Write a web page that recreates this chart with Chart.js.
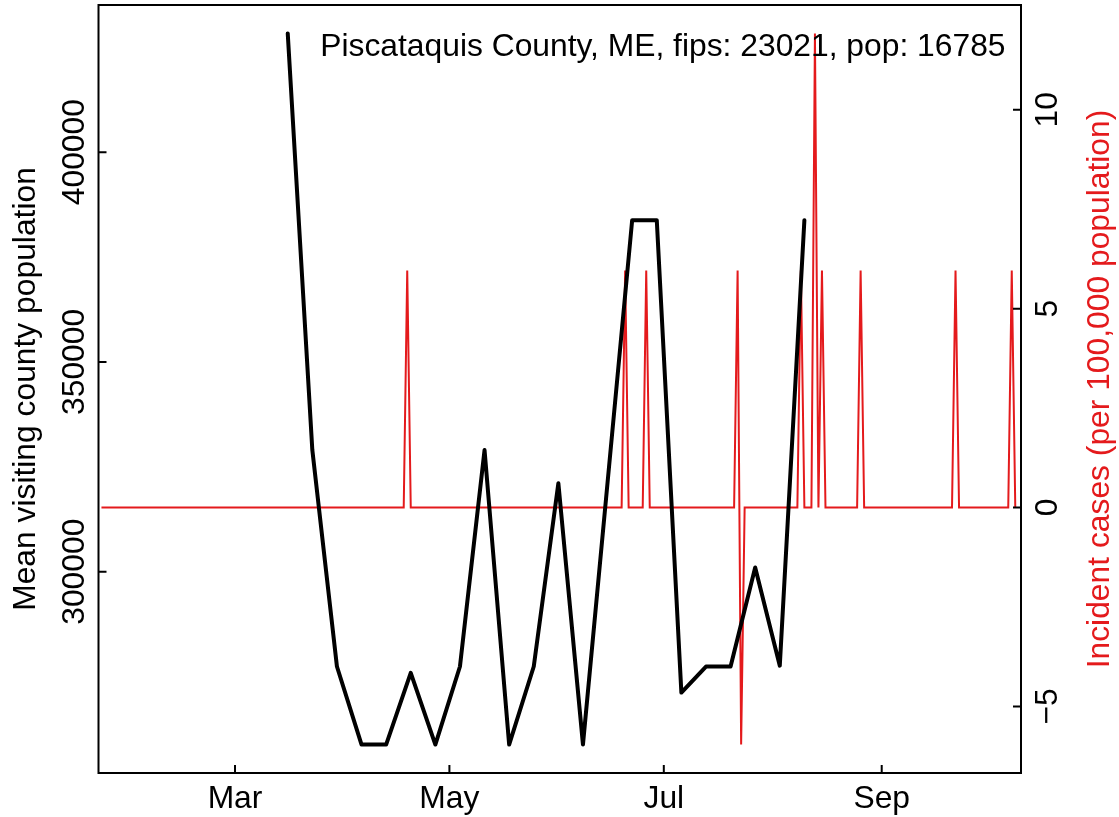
<!DOCTYPE html>
<html>
<head>
<meta charset="utf-8">
<script src="https://cdn.jsdelivr.net/npm/chart.js@4.4.0/dist/chart.umd.min.js"></script>
<style>
html,body{margin:0;padding:0;background:#fff;}
#wrap{width:1119px;height:817px;}
</style>
</head>
<body>
<div id="wrap"><canvas id="c" width="1119" height="817"></canvas></div>
<script>
// ---- data ----
const visitDates = ['2020-03-16','2020-03-23','2020-03-30','2020-04-06','2020-04-13','2020-04-20',
  '2020-04-27','2020-05-04','2020-05-11','2020-05-18','2020-05-25','2020-06-01','2020-06-08',
  '2020-06-15','2020-06-22','2020-06-29','2020-07-06','2020-07-13','2020-07-20','2020-07-27',
  '2020-08-03','2020-08-10'];
const visitValues = [428300, 329000, 277400, 258800, 258800, 275900, 258800, 277400, 329000,
  258800, 277400, 321100, 258800, 321300, 383800, 383800, 271200, 277400, 277400, 301000,
  277600, 383800];

const caseDates = ['2020-01-23',
  '2020-04-18','2020-04-19','2020-04-20',
  '2020-06-19','2020-06-20','2020-06-21',
  '2020-06-25','2020-06-26','2020-06-27',
  '2020-07-21','2020-07-22','2020-07-23','2020-07-24',
  '2020-08-08','2020-08-09','2020-08-10',
  '2020-08-12','2020-08-13','2020-08-14','2020-08-15','2020-08-16',
  '2020-08-25','2020-08-26','2020-08-27',
  '2020-09-21','2020-09-22','2020-09-23',
  '2020-10-07','2020-10-08','2020-10-09'];
const caseValues = [0,
  0, 5.96, 0,
  0, 5.96, 0,
  0, 5.96, 0,
  0, 5.96, -5.96, 0,
  0, 5.96, 0,
  0, 11.92, 0, 5.96, 0,
  0, 5.96, 0,
  0, 5.96, 0,
  0, 5.96, 0];

const monthTickDates = ['2020-03-01','2020-05-01','2020-07-01','2020-09-01'];
const monthTickLabels = ['Mar','May','Jul','Sep'];
const leftTicks = [300000, 350000, 400000];
const rightTicks = [-5, 0, 5, 10];
const rightTickLabels = ['\u22125','0','5','10'];
const titleText = 'Piscataquis County, ME, fips: 23021, pop: 16785';
const leftTitle = 'Mean visiting county population';
const rightTitle = 'Incident cases (per 100,000 population)';

// ---- helpers ----
function doy(s){
  const p = s.split('-').map(Number);
  return (Date.UTC(p[0],p[1]-1,p[2]) - Date.UTC(p[0],0,1)) / 864e5 + 1;
}
function padRange(arr){
  const mn = Math.min(...arr), mx = Math.max(...arr), p = (mx-mn)*0.04;
  return [mn-p, mx+p];
}
const leftRange = padRange(visitValues);
const rightRange = padRange(caseValues);

const FONT = '31.8px "Liberation Sans", Arial, Helvetica, sans-serif';
const RED = '#E41A1C';

const overlay = {
  id: 'overlay',
  afterDraw(chart){
    const ctx = chart.ctx, a = chart.chartArea;
    const xs = chart.scales.x, yl = chart.scales.yL, yr = chart.scales.yR;
    ctx.save();
    ctx.strokeStyle = '#000';
    ctx.lineWidth = 2;
    ctx.strokeRect(a.left, a.top, a.right - a.left, a.bottom - a.top);
    const TL = 8;
    ctx.beginPath();
    monthTickDates.forEach(d => { const x = xs.getPixelForValue(doy(d)); ctx.moveTo(x, a.bottom); ctx.lineTo(x, a.bottom - TL); });
    leftTicks.forEach(v => { const y = yl.getPixelForValue(v); ctx.moveTo(a.left, y); ctx.lineTo(a.left + TL, y); });
    rightTicks.forEach(v => { const y = yr.getPixelForValue(v); ctx.moveTo(a.right, y); ctx.lineTo(a.right - TL, y); });
    ctx.stroke();

    ctx.font = FONT;
    ctx.fillStyle = '#000';
    ctx.textAlign = 'center';
    ctx.textBaseline = 'alphabetic';
    monthTickDates.forEach((d,i) => ctx.fillText(monthTickLabels[i], xs.getPixelForValue(doy(d)), a.bottom + 35));
    leftTicks.forEach(v => {
      const y = yl.getPixelForValue(v);
      ctx.save(); ctx.translate(a.left - 14.5, y); ctx.rotate(-Math.PI/2); ctx.fillText(String(v), 0, 0); ctx.restore();
    });
    rightTicks.forEach((v,i) => {
      const y = yr.getPixelForValue(v);
      ctx.save(); ctx.translate(a.right + 36, y); ctx.rotate(-Math.PI/2); ctx.fillText(rightTickLabels[i], 0, 0); ctx.restore();
    });
    const cy = (a.top + a.bottom) / 2;
    ctx.save(); ctx.translate(35, cy); ctx.rotate(-Math.PI/2); ctx.fillText(leftTitle, 0, 0); ctx.restore();
    ctx.fillStyle = RED;
    ctx.save(); ctx.translate(1109, cy); ctx.rotate(-Math.PI/2); ctx.fillText(rightTitle, 0, 0); ctx.restore();
    ctx.fillStyle = '#000';
    ctx.textAlign = 'right';
    ctx.fillText(titleText, a.right - 15.5, a.top + 51);
    ctx.restore();
  }
};

new Chart(document.getElementById('c'), {
  type: 'line',
  data: {
    datasets: [
      {
        label: 'visiting',
        data: visitDates.map((d,i) => ({x: doy(d), y: visitValues[i]})),
        yAxisID: 'yL',
        borderColor: '#000',
        borderWidth: 4,
        pointRadius: 0,
        tension: 0,
        borderJoinStyle: 'round',
        borderCapStyle: 'round',
        order: 0
      },
      {
        label: 'cases',
        data: caseDates.map((d,i) => ({x: doy(d), y: caseValues[i]})),
        yAxisID: 'yR',
        borderColor: RED,
        borderWidth: 2,
        pointRadius: 0,
        tension: 0,
        order: 1
      }
    ]
  },
  options: {
    responsive: false,
    animation: false,
    events: [],
    layout: { padding: { top: 5, left: 0, right: 0, bottom: 0 } },
    plugins: { legend: { display: false }, tooltip: { enabled: false }, title: { display: false } },
    scales: {
      x: {
        type: 'linear', position: 'bottom', min: 22.16, max: 284.63,
        grid: { display: false }, border: { display: false },
        ticks: { display: false },
        afterFit(s){ s.height = 44; }
      },
      yL: {
        type: 'linear', position: 'left', min: leftRange[0], max: leftRange[1],
        grid: { display: false }, border: { display: false },
        ticks: { display: false },
        afterFit(s){ s.width = 98.5; }
      },
      yR: {
        type: 'linear', position: 'right', min: rightRange[0], max: rightRange[1],
        grid: { display: false }, border: { display: false },
        ticks: { display: false },
        afterFit(s){ s.width = 98; }
      }
    }
  },
  plugins: [overlay]
});
</script>
</body>
</html>
